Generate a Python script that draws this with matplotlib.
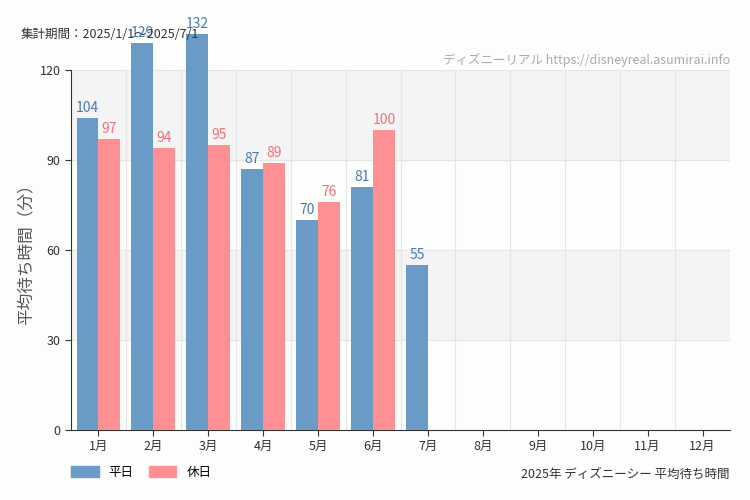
import matplotlib
matplotlib.use("Agg")
import matplotlib.pyplot as plt
import numpy as np

plt.rcParams['font.family'] = ['Noto Sans CJK JP']

months = ['1月','2月','3月','4月','5月','6月','7月','8月','9月','10月','11月','12月']
weekday = [104,129,132,87,70,81,55]
holiday = [97,94,95,89,76,100]
yticks = [0,30,60,90,120]

fig = plt.figure(figsize=(7.5,5), dpi=100, facecolor='#fcfefc')
ax = fig.add_axes([0.0947,0.14,0.8786,0.72])
ax.set_facecolor('#fcfefc')
ax.axhspan(90,120,color='#f4f4f4',zorder=0)
ax.axhspan(30,60,color='#f4f4f4',zorder=0)
x = np.arange(len(months))
w = 0.4
b1 = ax.bar(x[:len(weekday)]-w/2, weekday, w, color='#6a9ac6', clip_on=False, zorder=3)
b2 = ax.bar(x[:len(holiday)]+w/2, holiday, w, color='#fe8f92', clip_on=False, zorder=3)
for r,v in zip(b1,weekday):
    ax.text(r.get_x()+r.get_width()/2, v+1, str(v), ha='center', va='bottom', color='#4a7cb0', fontsize=10, fontstretch='condensed', zorder=4)
for r,v in zip(b2,holiday):
    ax.text(r.get_x()+r.get_width()/2, v+1, str(v), ha='center', va='bottom', color='#f0707a', fontsize=10, zorder=4)
ax.set_xlim(-0.5,11.5)
ax.set_ylim(0,120)
ax.set_yticks(yticks)
ax.set_xticks(x)
ax.set_xticklabels(months, fontsize=9)
ax.tick_params(labelsize=9, colors='#333333', length=4)
for v in range(1,12):
    ax.axvline(v-0.5, color='#e6e6e6', lw=0.8, zorder=1)
for t in yticks[1:]:
    ax.axhline(t, color='#e6e6e6', lw=0.8, zorder=1)
for s in ['top','right']:
    ax.spines[s].set_visible(False)
ax.spines['left'].set_color('#333333')
ax.spines['bottom'].set_color('#333333')
ax.set_ylabel('平均待ち時間（分）', fontsize=12, color='#555555')
fig.text(0.027,0.925,'集計期間：2025/1/1～2025/7/1', fontsize=9, color='#333333')
fig.text(0.973,0.872,'ディズニーリアル https://disneyreal.asumirai.info', fontsize=9, color='#aaaaaa', ha='right')
fig.text(0.973,0.045,'2025年 ディズニーシー 平均待ち時間', fontsize=9, color='#333333', ha='right')
from matplotlib.patches import Patch
fig.legend(handles=[Patch(color='#6a9ac6',label='平日'),Patch(color='#fe8f92',label='休日')],
           loc='lower left', bbox_to_anchor=(0.08,0.02), ncol=2, frameon=False, fontsize=9,
           handlelength=2.2, handleheight=0.9, columnspacing=1.2)
fig.savefig('out.png', dpi=100, facecolor=fig.get_facecolor())
